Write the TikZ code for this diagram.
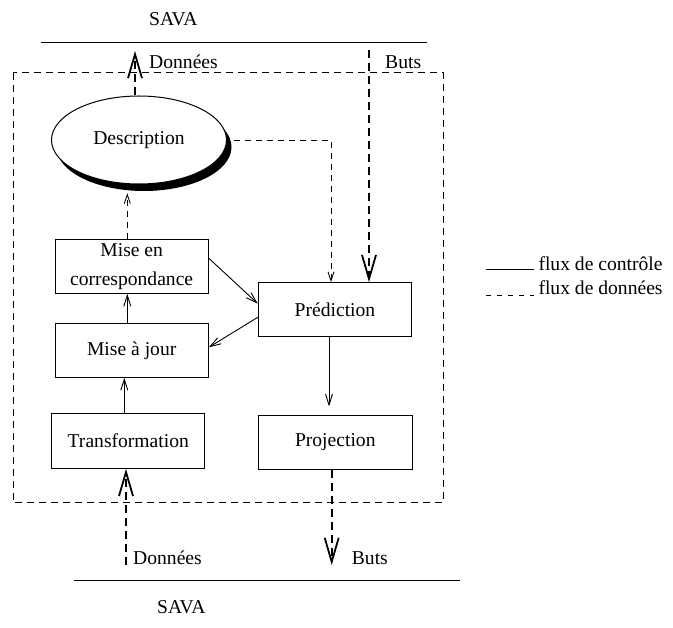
\documentclass[tikz,border=0pt]{standalone}
\usepackage{fontspec}
\setmainfont{Liberation Serif}
\usetikzlibrary{arrows.meta,calc,shapes.geometric}
\tikzset{
  txt/.style={font=\fontsize{19.6}{29}\selectfont, inner sep=0pt},
  lbl/.style={txt, anchor=base west},
  box/.style={draw, line width=1pt, rectangle, inner sep=0pt, txt, align=center},
  ctl/.style={line width=0.9pt, -{Straight Barb[length=11pt,width=7pt,line width=0.9pt]}},
  dat/.style={line width=0.9pt, dash pattern=on 6pt off 5pt, -{Straight Barb[length=9pt,width=6pt,line width=0.9pt]}},
  ext/.style={line width=1.8pt, dash pattern=on 8pt off 5pt, -{Straight Barb[length=24pt,width=14pt,line width=1.8pt]}},
  frame/.style={line width=1pt, dash pattern=on 7pt off 5pt},
  rule/.style={line width=1.1pt}
}
\begin{document}
\begin{tikzpicture}[x=1pt,y=-1pt]
\useasboundingbox (0,0) rectangle (673,628);

% outer SAVA boundaries
\coordinate (tl1) at (40.7,42.7);
\coordinate (tl2) at (426.7,42.7);
\coordinate (bl1) at (74,580.7);
\coordinate (bl2) at (460,580.7);
\draw[rule] (tl1) -- (tl2);
\draw[rule] (bl1) -- (bl2);
\node[lbl] (savatop) at (149,26) {SAVA};
\node[lbl] (savabot) at (157,613) {SAVA};

% system frame
\draw[frame] (13,72.7) rectangle (443,502.7);

% description ellipse with its solid shadow
\fill (144,147) ellipse [x radius=87.5, y radius=44];
\node[draw, line width=1pt, ellipse, minimum width=175, minimum height=88, inner sep=0pt, fill=white,
      txt] (desc) at (139,140) {Description};

% modules
\node[box, minimum width=153.3, minimum height=54] (corr) at (131.7,266.3) {Mise en\\correspondance};
\node[box, minimum width=153.3, minimum height=54] (majour) at (131.7,350.3) {Mise à jour};
\node[box, minimum width=153.3, minimum height=55] (transf) at (128.3,440.8) {Transformation};
\node[box, minimum width=153.4, minimum height=54] (pred) at (335,309.7) {Prédiction};
\node[box, minimum width=154, minimum height=53.6] (proj) at (335.3,442.5) {Projection};

% free ends of the external flows
\coordinate (dtop) at (135,51);
\coordinate (butsin) at (369,50);
\coordinate (butsout) at (331.7,565);
\coordinate (donin) at (126,565);

% anchor points on the modules
\coordinate (d1) at ([xshift=-4pt]desc.north);
\coordinate (d2) at ([xshift=7pt]desc.east);
\coordinate (c1) at ([xshift=-4.4pt]corr.north);
\coordinate (t1) at ([xshift=-4pt]transf.north);
\coordinate (t2) at ([xshift=-2.3pt]transf.south);
\coordinate (p1) at ([xshift=-4pt]pred.north);
\coordinate (p2) at ([xshift=-6pt]pred.south);
\coordinate (r1) at ([xshift=-3.6pt]proj.south);
\coordinate (dbot) at ([yshift=-8.7pt]desc.south);

% data flows
\draw[ext] (d1) -- (dtop);
\draw[ext] (butsin) -- (butsin |- pred.north);
\draw[ext] (r1) -- (butsout);
\draw[ext] (donin) -- (t2);
\draw[dat] (d2) -| (p1);
\draw[dat] (c1) -- (c1 |- dbot);

% control flows
\draw[ctl] (t1) -- (t1 |- majour.south);
\draw[ctl] (majour.north -| c1) -- (c1 |- corr.south);
\draw[ctl] ([yshift=8pt]corr.east) -- ([yshift=6pt]pred.west);
\draw[ctl] ([yshift=-7.6pt]pred.west) -- ([yshift=3pt]majour.east);
\draw[ctl, shorten >=8.7pt] (p2) -- (p2 |- proj.north);

% labels of the external flows
\node[lbl] (ldtop) at (149,68.3) {Données};
\node[lbl] (lbtop) at (385,68.3) {Buts};
\node[lbl] (ldbot) at (133,565) {Données};
\node[lbl] (lbbot) at (351.7,565) {Buts};

% legend
\coordinate (k1) at (486,269.5);
\coordinate (k2) at (534,269.5);
\coordinate (k3) at (486,295);
\coordinate (k4) at (534,295);
\draw[line width=0.9pt] (k1) -- (k2);
\draw[line width=0.9pt, dash pattern=on 5pt off 6pt] (k3) -- (k4);
\node[lbl] (leg1) at (538.3,271) {flux de contrôle};
\node[lbl] (leg2) at (538.3,295) {flux de données};
\end{tikzpicture}
\end{document}
